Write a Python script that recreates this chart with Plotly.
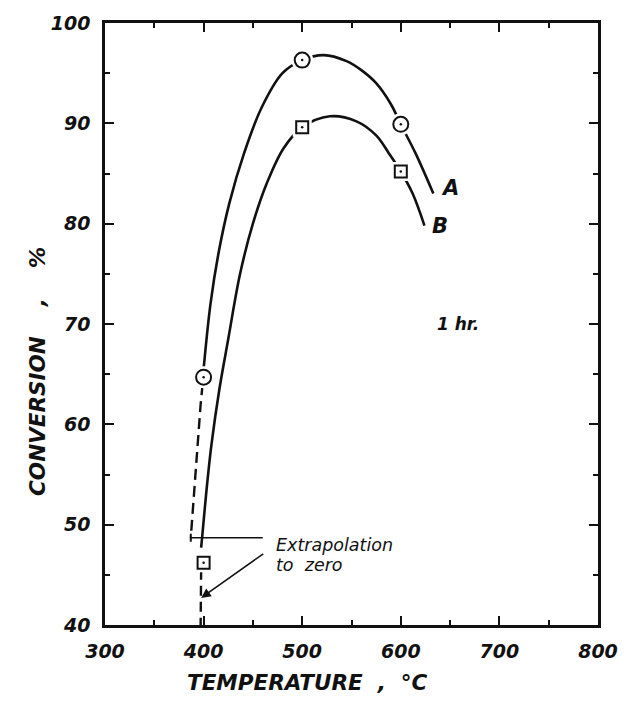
import plotly.graph_objects as go

# measured points (temperature, conversion %)
temps = [400, 500, 600]
conv_A = [64.7, 96.3, 89.9]
conv_B = [46.2, 89.6, 85.2]

# smooth hand-drawn curves
curveA_T = [400, 407, 415, 426, 441, 459, 480, 500, 522, 545, 560, 575, 590, 600, 615, 633]
curveA_V = [65.5, 72, 77, 82, 87, 91.6, 95, 96.3, 96.8, 96.2, 95.3, 94, 91.9, 89.9, 87, 83]
curveB_T = [397.5, 398.5, 403, 408, 416, 425, 437, 450, 464, 481, 500, 528, 555, 575, 588, 600, 612, 624]
curveB_V = [47.7, 48.7, 53.5, 58, 63.5, 68.5, 75, 80, 84, 87.5, 89.6, 90.7, 90.2, 88.8, 87, 85.2, 83, 79.8]

# dashed extrapolations
extA_T = [399, 397, 387]
extA_V = [64, 62, 48.7]
extB_T = [397.5, 397]
extB_V = [45.5, 40]

# annotation guide line
guide_T = [387, 460]
guide_V = [48.7, 48.7]
guide_tick_T = [387, 387]
guide_tick_V = [48.3, 49.1]

x_ticks = [300, 400, 500, 600, 700, 800]
y_ticks = [40, 50, 60, 70, 80, 90, 100]

BLK = "#111111"
FONT = "DejaVu Sans"

fig = go.Figure()

fig.add_trace(go.Scatter(x=curveA_T, y=curveA_V, mode="lines",
                         line=dict(color=BLK, width=2.6, shape="spline", smoothing=1.0)))
fig.add_trace(go.Scatter(x=curveB_T, y=curveB_V, mode="lines",
                         line=dict(color=BLK, width=2.6, shape="spline", smoothing=1.0)))
fig.add_trace(go.Scatter(x=extA_T, y=extA_V, mode="lines",
                         line=dict(color=BLK, width=2.4, dash="11px,6px")))
fig.add_trace(go.Scatter(x=extB_T, y=extB_V, mode="lines",
                         line=dict(color=BLK, width=2.4, dash="10px,6px")))
fig.add_trace(go.Scatter(x=guide_T, y=guide_V, mode="lines",
                         line=dict(color=BLK, width=1.6)))
fig.add_trace(go.Scatter(x=guide_tick_T, y=guide_tick_V, mode="lines",
                         line=dict(color=BLK, width=2)))

# white halos to make gaps around markers
fig.add_trace(go.Scatter(x=temps, y=conv_A, mode="markers",
                         marker=dict(symbol="circle", size=22, color="white", line=dict(width=0))))
fig.add_trace(go.Scatter(x=temps, y=conv_B, mode="markers",
                         marker=dict(symbol="square", size=19, color="white", line=dict(width=0))))
# markers
fig.add_trace(go.Scatter(x=temps, y=conv_A, mode="markers",
                         marker=dict(symbol="circle", size=15, color="white", line=dict(color=BLK, width=2))))
fig.add_trace(go.Scatter(x=temps, y=conv_B, mode="markers",
                         marker=dict(symbol="square", size=12, color="white", line=dict(color=BLK, width=2))))
fig.add_trace(go.Scatter(x=temps + temps, y=conv_A + conv_B, mode="markers",
                         marker=dict(symbol="circle", size=2.5, color=BLK)))

tick_font = dict(family=FONT, size=19, color=BLK, weight="bold", style="italic")
fig.update_xaxes(range=[300, 800], tickvals=x_ticks, ticks="inside", ticklen=9, tickwidth=2,
                 tickcolor=BLK, showline=True, linecolor=BLK, linewidth=2.6, mirror="allticks",
                 showgrid=False, zeroline=False, ticklabelstandoff=7, tickfont=tick_font,
                 minor=dict(dtick=50, ticks="inside", ticklen=5, tickwidth=2, tickcolor=BLK))
fig.update_yaxes(range=[40, 100], tickvals=y_ticks, ticks="inside", ticklen=9, tickwidth=2,
                 tickcolor=BLK, showline=True, linecolor=BLK, linewidth=2.6, mirror="allticks",
                 showgrid=False, zeroline=False, ticklabelstandoff=8, tickfont=tick_font,
                 minor=dict(dtick=5, ticks="inside", ticklen=5, tickwidth=2, tickcolor=BLK))

ann_font = dict(family=FONT, color=BLK, style="italic")
fig.add_annotation(x=650, y=83.6, text="A", showarrow=False,
                   font=dict(size=21, weight="bold", **ann_font))
fig.add_annotation(x=640, y=79.8, text="B", showarrow=False,
                   font=dict(size=21, weight="bold", **ann_font))
fig.add_annotation(x=658, y=70, text="1 hr.", showarrow=False,
                   font=dict(size=17, weight="bold", **ann_font))
fig.add_annotation(x=471, y=48.0, text="Extrapolation", showarrow=False, xanchor="left",
                   font=dict(size=17.5, **ann_font))
fig.add_annotation(x=471, y=46.0, text="to  zero", showarrow=False, xanchor="left",
                   font=dict(size=17.5, **ann_font))
fig.add_annotation(x=397.5, y=42.7, ax=462, ay=47.2, axref="x", ayref="y", xref="x", yref="y",
                   text="", showarrow=True, arrowhead=2, arrowsize=1.2, arrowwidth=1.6,
                   arrowcolor=BLK)

# axis titles placed by pixel position
L, R, T, B = 105, 25, 20, 85
W, H = 630, 710
pw, ph = W - L - R, H - T - B
fig.add_annotation(x=(310 - L) / pw, y=(H - 697 - B) / ph, xref="paper", yref="paper",
                   text="TEMPERATURE  ,  °C", showarrow=False,
                   font=dict(size=21.5, weight="bold", **ann_font))
fig.add_annotation(x=(22 - L) / pw, y=(H - 370 - B) / ph, xref="paper", yref="paper",
                   text="CONVERSION    ,    %", textangle=-90, showarrow=False,
                   font=dict(size=21.5, weight="bold", **ann_font))

fig.update_layout(width=W, height=H, margin=dict(l=L, r=R, t=T, b=B),
                  plot_bgcolor="white", paper_bgcolor="white", showlegend=False)

fig.write_html("out.html")
